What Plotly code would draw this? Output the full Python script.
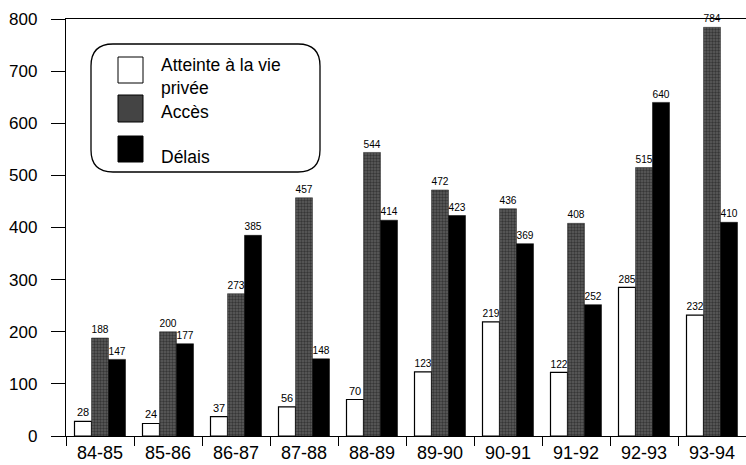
import plotly.graph_objects as go

categories = ["84-85", "85-86", "86-87", "87-88", "88-89", "89-90", "90-91", "91-92", "92-93", "93-94"]
atteinte = [28, 24, 37, 56, 70, 123, 219, 122, 285, 232]
acces = [188, 200, 273, 457, 544, 472, 436, 408, 515, 784]
delais = [147, 177, 385, 148, 414, 423, 369, 252, 640, 410]
series_names = ["Atteinte à la vie<br>privée", "Accès", "Délais"]
y_ticks = [0, 100, 200, 300, 400, 500, 600, 700, 800]

W, H = 746, 465
L, R, T, B = 66, 0, 19, 29
pw, ph = W - L - R, H - T - B

def px(x):
    return (x - L) / pw

def py(y):
    return (H - B - y) / ph

FONT = "Liberation Sans, Arial, sans-serif"

fig = go.Figure()
lbl = dict(size=11, color="#000000", family=FONT)
fig.add_trace(go.Bar(x=categories, y=atteinte, name="Atteinte à la vie privée",
                     marker=dict(color="white", line=dict(color="black", width=1.2)),
                     text=atteinte, textposition="outside", outsidetextfont=lbl, textfont=lbl,
                     cliponaxis=False))
fig.add_trace(go.Bar(x=categories, y=acces, name="Accès",
                     marker=dict(color="#444444", line=dict(color="#222", width=0.5),
                                 pattern=dict(shape=".", fgcolor="#0d0d0d", bgcolor="#5e5e5e", size=3, solidity=0.5)),
                     text=acces, textposition="outside", outsidetextfont=lbl, textfont=lbl,
                     cliponaxis=False))
fig.add_trace(go.Bar(x=categories, y=delais, name="Délais",
                     marker=dict(color="black", line=dict(color="black", width=0.5)),
                     text=delais, textposition="outside", outsidetextfont=lbl, textfont=lbl,
                     cliponaxis=False))

shapes = []
x0, x1, y0, y1 = px(91), px(320), py(172), py(44)
rx, ry = 22 / pw, 22 / ph
path = (f"M {x0+rx},{y1} L {x1-rx},{y1} Q {x1},{y1} {x1},{y1-ry} "
        f"L {x1},{y0+ry} Q {x1},{y0} {x1-rx},{y0} L {x0+rx},{y0} "
        f"Q {x0},{y0} {x0},{y0+ry} L {x0},{y1-ry} Q {x0},{y1} {x0+rx},{y1} Z")
shapes.append(dict(type="path", path=path, xref="paper", yref="paper",
                   line=dict(color="black", width=1.3), fillcolor="white", layer="above"))
boxes = [(57, 83, "white"), (95, 122, "#444444"), (136, 162, "black")]
for (top, bot, col) in boxes:
    shapes.append(dict(type="rect", xref="paper", yref="paper",
                       x0=px(118), x1=px(143), y0=py(bot), y1=py(top),
                       fillcolor=col, line=dict(color="black", width=1), layer="above"))

annotations = []
text_y = [76, 112, 157]
for name, ty in zip(series_names, text_y):
    annotations.append(dict(text=name, xref="paper", yref="paper", x=px(159), y=py(ty),
                            xanchor="left", yanchor="middle", showarrow=False, align="left",
                            font=dict(size=17.5, family=FONT, color="black")))

fig.update_layout(
    width=W, height=H,
    margin=dict(l=L, r=R, t=T, b=B),
    paper_bgcolor="white", plot_bgcolor="white",
    barmode="group", bargap=0.25, bargroupgap=0,
    showlegend=False,
    shapes=shapes, annotations=annotations,
    font=dict(family=FONT, color="black"),
)
fig.update_xaxes(type="category", range=[-0.5, 9.5], tickson="boundaries",
                 ticks="outside", ticklen=9, tickwidth=1.3, tickcolor="black",
                 showline=True, linecolor="black", linewidth=1.3, mirror=True,
                 showgrid=False, tickfont=dict(size=18, family=FONT, color="black"))
fig.update_yaxes(range=[0, 800], tickvals=y_ticks, ticks="outside", ticklen=14,
                 tickwidth=1.3, tickcolor="black", showline=True, linecolor="black",
                 linewidth=1.3, showgrid=False, zeroline=False, ticklabelstandoff=10,
                 tickfont=dict(size=17, family=FONT, color="black"))

fig.write_html("out.html")
